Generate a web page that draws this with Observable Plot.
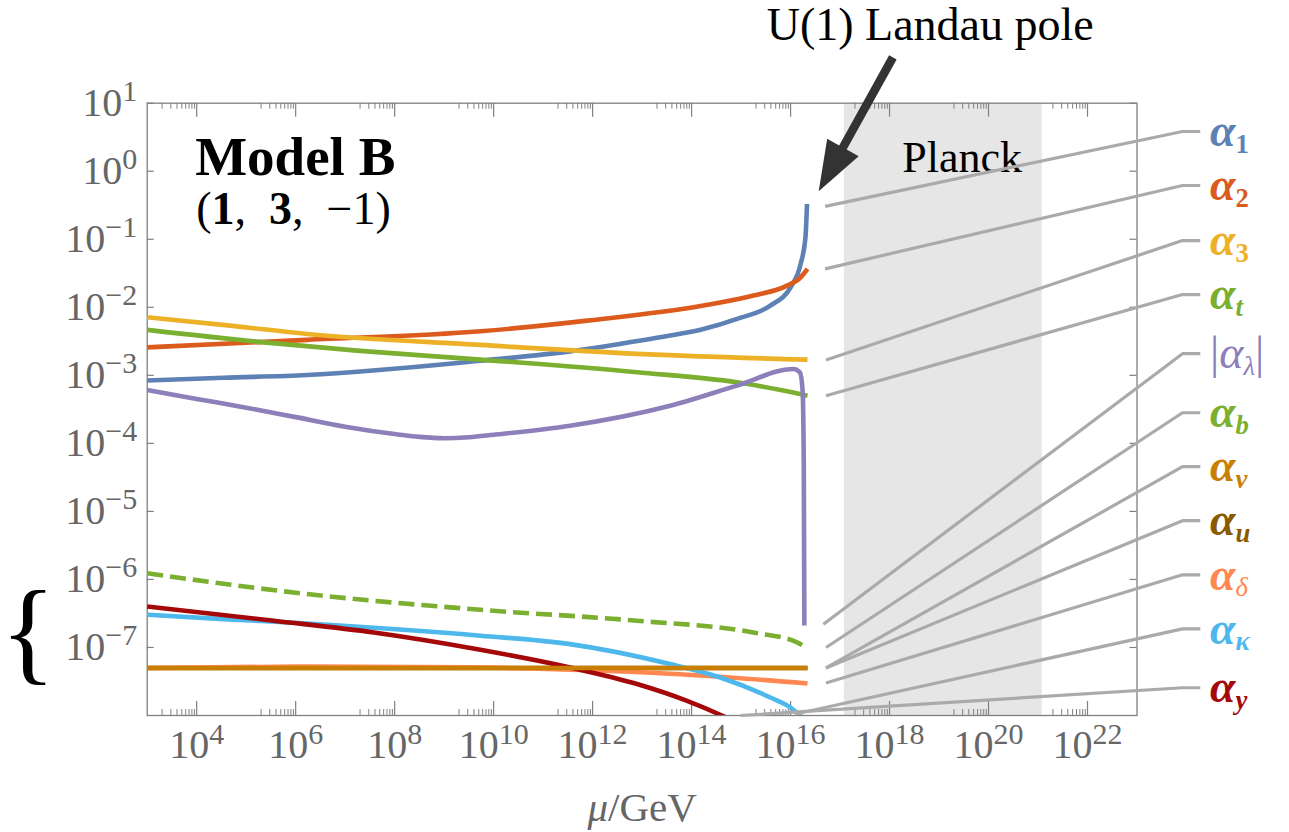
<!DOCTYPE html>
<html>
<head>
<meta charset="utf-8">
<script src="https://cdn.jsdelivr.net/npm/d3@7"></script>
<script src="https://cdn.jsdelivr.net/npm/@observablehq/plot@0.6"></script>
<style>
  body { margin: 0; background: #fff; }
</style>
</head>
<body>
<div id="chart"></div>
<script>
// Running couplings of Model B, (μ / GeV, α) pairs
const alpha1 = [[1e3, 8.4e-4], [3.5e4, 9.2e-4], [1.7e6, 1.01e-3], [5.4e9, 1.64e-3], [3.5e11, 2.25e-3], [3.6e12, 2.9e-3], [3.7e13, 3.84e-3], [1.74e14, 4.8e-3], [8.3e14, 6.75e-3], [3.9e15, 1.06e-2], [1.0e16, 1.97e-2], [1.6e16, 4.35e-2], [2.0e16, 0.107], [2.15e16, 0.33]];
const alpha2 = [[1e3, 2.58e-3], [1.7e6, 3.32e-3], [5.4e9, 4.44e-3], [7.8e11, 6.37e-3], [1.74e14, 1.06e-2], [1.78e15, 1.49e-2], [8.5e15, 2.08e-2], [1.6e16, 2.76e-2], [2.2e16, 3.67e-2]];
const alpha3 = [[1e3, 7.13e-3], [4.7e4, 5.38e-3], [1.7e6, 4.06e-3], [5.4e9, 2.8e-3], [7.9e12, 2.07e-3], [2.2e16, 1.7e-3]];
const alphaT = [[1e3, 4.66e-3], [2.3e5, 3.05e-3], [1.74e7, 2.31e-3], [5.4e9, 1.7e-3], [7.9e12, 1.11e-3], [8.3e14, 7.89e-4], [8.5e15, 5.82e-4], [2.2e16, 5.02e-4]];
const alphaLambda = [[1e3, 6.1e-4], [1e4, 4.5e-4], [1e5, 3.35e-4], [1e6, 2.43e-4], [1e7, 1.76e-4], [1e8, 1.37e-4], [3.16e8, 1.245e-4], [1e9, 1.19e-4], [3.16e9, 1.23e-4], [1e10, 1.34e-4], [3.5e11, 1.82e-4], [3.7e13, 3.58e-4], [8.3e14, 7.06e-4], [1.15e16, 1.24e-3], [1.55e16, 1.1e-3], [1.75e16, 6e-4], [1.85e16, 5e-5], [1.9e16, 2.1e-7]];
const alphaB = [[1e3, 1.23e-6], [1.7e6, 6.1e-7], [5.4e9, 3.58e-7], [7.9e12, 2.47e-7], [1.78e15, 1.66e-7], [1.35e16, 1.19e-7], [2.2e16, 9.8e-8]];
const alphaV = [[1e3, 5e-8], [1e10, 5e-8], [2.2e16, 5e-8]];
const alphaU = [[1e3, 5e-8], [1e10, 5e-8], [2.2e16, 5e-8]];
const alphaDelta = [[1e3, 5e-8], [1.7e6, 5.25e-8], [3.4e9, 5.1e-8], [1.66e12, 4.54e-8], [1.74e14, 3.84e-8], [2.2e16, 2.96e-8]];
const alphaKappa = [[1e3, 3.03e-7], [3.5e4, 2.61e-7], [1.7e6, 2.25e-7], [5.4e9, 1.49e-7], [3.5e11, 1.12e-7], [3.7e13, 5.7e-8], [3.8e14, 3.62e-8], [3.9e15, 1.84e-8], [1e16, 1.31e-8], [2.2e16, 7.8e-9]];
const alphaY = [[1e3, 4.01e-7], [3.6e5, 2.47e-7], [3.8e7, 1.66e-7], [5.4e9, 9.25e-8], [3.5e11, 5.08e-8], [7.9e12, 2.9e-8], [8.1e13, 1.64e-8], [4.2e14, 9.9e-9], [8e14, 7.9e-9]];

// Series order, legend text and colours
const seriesNames = ["α1", "α2", "α3", "αt", "αλ", "αb", "αv", "αu", "αδ", "ακ", "αy"];
const seriesData = [alpha1, alpha2, alpha3, alphaT, alphaLambda, alphaB, alphaV, alphaU, alphaDelta, alphaKappa, alphaY];
const seriesLabels = ["*~α~*_{*1*}", "*~α~*_{*2*}", "*~α~*_{*3*}", "*~α~*_{*~t~*}", "|~α~_{~λ~}|", "*~α~*_{*~b~*}", "*~α~*_{*~v~*}", "*~α~*_{*~u~*}", "*~α~*_{~δ~}", "*~α~*_{*~κ~*}", "*~α~*_{*~y~*}"];
const seriesColors = ["#5e81b5", "#dc5a1c", "#ecb127", "#7aaf2f", "#8d7fba", "#7aaf2f", "#c97f03", "#8a5a00", "#ff8852", "#4eb8ec", "#a50808"];
const dashedSeries = ["αb"];
// Draw order: the flat α_v line sits on top
const drawOrder = ["α1", "α2", "α3", "αt", "αλ", "αb", "αu", "αδ", "ακ", "αy", "αv"];

// Callout leaders: from each curve to its label (μ, α)
const leaderFromMu = [5e16, 5e16, 5.2e16, 5.2e16, 4.6e16, 5.2e16, 5.2e16, 5.2e16, 5.2e16, 1.26e16, 9.8e14];
const leaderFromAlpha = [0.305, 0.0367, 1.68e-3, 5.02e-4, 2.2e-7, 1.0e-7, 5.0e-8, 5.0e-8, 3.0e-8, 1.05e-8, 1.0e-8];
const labelAlpha = [3.84, 0.617, 0.0957, 0.0154, 2.08e-3, 2.82e-4, 4.54e-5, 7.3e-6, 1.17e-6, 1.88e-7, 2.56e-8];
const calloutBendMu = 8.3e23;
const calloutEndMu = 1.9e24;

// Planck band and the Landau pole pointer
const planckBand = [1.22e17, 1.22e21];
const landauPole = {mu: 3.7e16, alpha: 0.508};

// Axis ticks
const xMajor = d3.range(4, 23, 2).map(e => 10 ** e);
const xMinor = d3.range(3, 22, 2).flatMap(e => d3.range(2, 10).map(k => k * 10 ** e));
const yMajor = d3.range(1, -8, -1).map(e => 10 ** e);

const W = 1289, H = 832;
const margin = {top: 102.7, right: 152.5, bottom: 117, left: 146.7};
const plotW = W - margin.left - margin.right;
const plotH = H - margin.top - margin.bottom;
const axisGray = "#808080";
const labelGray = "#666";

const fmtExp = d => {
  const e = Math.round(Math.log10(d));
  return `10^{${e < 0 ? "−" + (-e) : e}}`;
};

// Filled arrow: shaft plus wide head, tip at the end of the vector
const arrowShape = {
  draw(context, l) {
    const hl = 50, hw = 18, sw = 4.3;
    context.moveTo(-sw, 0);
    context.lineTo(-sw, -(l - hl));
    context.lineTo(-hw, -(l - hl));
    context.lineTo(0, -l);
    context.lineTo(hw, -(l - hl));
    context.lineTo(sw, -(l - hl));
    context.lineTo(sw, 0);
    context.closePath();
  }
};

const leaderRows = seriesNames.flatMap((s, i) => [
  {s, mu: leaderFromMu[i], a: leaderFromAlpha[i]},
  {s, mu: calloutBendMu, a: labelAlpha[i]},
  {s, mu: calloutEndMu, a: labelAlpha[i]}
]);
const labelRows = seriesNames.map((s, i) => ({s, label: seriesLabels[i], a: labelAlpha[i], color: seriesColors[i]}));

const lineMarks = drawOrder.map(name => {
  const i = seriesNames.indexOf(name);
  return Plot.line(seriesData[i], {
    x: d => d[0],
    y: d => d[1],
    stroke: seriesColors[i],
    strokeWidth: 4.6,
    strokeLinecap: "butt",
    strokeDasharray: dashedSeries.includes(name) ? "16,7" : null,
    curve: "monotone-x",
    clip: true
  });
});

const chart = Plot.plot({
  width: W,
  height: H,
  marginTop: margin.top,
  marginRight: margin.right,
  marginBottom: margin.bottom,
  marginLeft: margin.left,
  style: {fontFamily: "'Liberation Serif', 'DejaVu Serif', serif", background: "#fff"},
  x: {type: "log", domain: [1e3, 1e23], axis: null},
  y: {type: "log", domain: [1e-8, 10], axis: null},
  color: {type: "identity"},
  marks: [
    Plot.rect([planckBand], {x1: d => d[0], x2: d => d[1], fill: "#e6e6e6"}),
    Plot.text(["Planck"], {text: d => d, frameAnchor: "top-left", dx: 815, dy: 69, textAnchor: "middle", lineAnchor: "bottom", fontSize: 44, fill: "#000"}),

    // frame and inward ticks
    Plot.frame({stroke: axisGray, strokeWidth: 1.3}),
    Plot.ruleX(xMajor, {insetTop: plotH - 14, stroke: axisGray, strokeWidth: 1.2}),
    Plot.ruleX(xMajor, {insetBottom: plotH - 14, stroke: axisGray, strokeWidth: 1.2}),
    Plot.ruleX(xMinor, {insetTop: plotH - 6, stroke: axisGray, strokeWidth: 1}),
    Plot.ruleX(xMinor, {insetBottom: plotH - 6, stroke: axisGray, strokeWidth: 1}),
    Plot.ruleY(yMajor, {insetRight: plotW - 7, stroke: axisGray, strokeWidth: 1.2}),
    Plot.ruleY(yMajor, {insetLeft: plotW - 7, stroke: axisGray, strokeWidth: 1.2}),

    // tick labels
    Plot.text(xMajor, {x: d => d, text: fmtExp, frameAnchor: "bottom", dy: 30, lineAnchor: "middle", textAnchor: "middle", fontSize: 40, fill: labelGray}),
    Plot.text(yMajor, {y: d => d, text: fmtExp, frameAnchor: "left", dx: -10, lineAnchor: "middle", textAnchor: "end", fontSize: 40, fill: labelGray}),
    Plot.text(["~μ~/GeV"], {text: d => d, frameAnchor: "bottom", dy: 105, lineAnchor: "bottom", textAnchor: "middle", fontSize: 41, fill: labelGray}),

    ...lineMarks,

    // callouts
    Plot.line(leaderRows, {x: "mu", y: "a", z: "s", stroke: "#aaa", strokeWidth: 3.2, strokeLinecap: "butt"}),
    Plot.text(labelRows, {y: "a", text: "label", fill: "color", frameAnchor: "right", dx: 73, textAnchor: "start", lineAnchor: "middle", fontSize: 46}),

    // annotations
    Plot.vector([landauPole], {x: "mu", y: "alpha", length: 153, rotate: 209, anchor: "end", shape: arrowShape, fill: "#333", stroke: "none"}),
    Plot.text(["U(1) Landau pole"], {text: d => d, frameAnchor: "top-left", dx: 783, dy: -63, textAnchor: "middle", lineAnchor: "bottom", fontSize: 46, fill: "#000"}),
    Plot.text(["Model B"], {text: d => d, frameAnchor: "top-left", dx: 48, dy: 72, textAnchor: "start", lineAnchor: "bottom", fontSize: 55, fontWeight: "bold", fill: "#000"}),
    Plot.text(["(*1*,\u2002*3*,\u2002−1)"], {text: d => d, frameAnchor: "top-left", dx: 49, dy: 121, textAnchor: "start", lineAnchor: "bottom", fontSize: 46, fill: "#000"}),
    Plot.text(["{"], {text: d => d, frameAnchor: "bottom-left", dx: -119, dy: -82, textAnchor: "middle", lineAnchor: "middle", fontSize: 115, fill: "#000"})
  ]
});

document.getElementById("chart").appendChild(chart);

// Light markup for text: *bold*, ~italic~, ^{superscript}, _{subscript}
function parseRich(s) {
  const out = [];
  let bold = false, italic = false, buf = "", i = 0;
  const push = () => { if (buf) out.push({text: buf, bold, italic, shift: 0, size: 1}); buf = ""; };
  while (i < s.length) {
    const c = s[i];
    if (c === "*") { push(); bold = !bold; i++; }
    else if (c === "~") { push(); italic = !italic; i++; }
    else if ((c === "^" || c === "_") && s[i + 1] === "{") {
      push();
      const j = s.indexOf("}", i);
      const sup = c === "^";
      for (const seg of parseRich(s.slice(i + 2, j))) {
        out.push({text: seg.text, bold: seg.bold || bold, italic: seg.italic || italic,
                  shift: sup ? -0.37 : 0.14, size: sup ? 0.75 : 0.58});
      }
      i = j + 1;
    } else { buf += c; i++; }
  }
  push();
  return out;
}

d3.select(chart).selectAll("text").each(function () {
  const raw = this.textContent;
  if (!/[*~^_]/.test(raw)) return;
  const fs = parseFloat(getComputedStyle(this).fontSize) || 40;
  const segs = parseRich(raw);
  this.textContent = "";
  let cur = 0;
  for (const seg of segs) {
    const t = d3.select(this).append("tspan").text(seg.text);
    const off = seg.shift * fs;
    if (off !== cur) { t.attr("dy", off - cur); cur = off; }
    if (seg.size !== 1) t.attr("font-size", seg.size * fs);
    if (seg.bold) t.attr("font-weight", "bold");
    if (seg.italic) t.attr("font-style", "italic");
  }
});
</script>
</body>
</html>
